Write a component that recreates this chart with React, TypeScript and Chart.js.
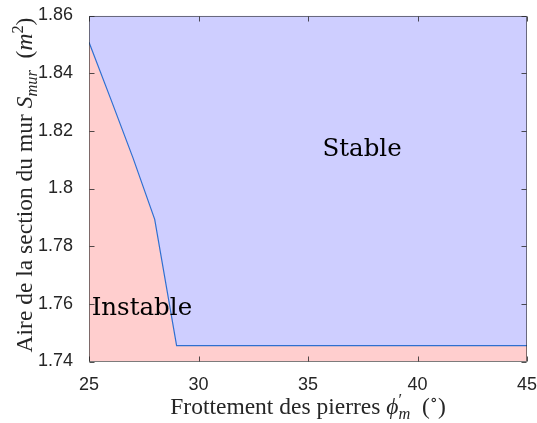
import React, { useEffect, useRef } from "react";
import { Chart, registerables } from "chart.js";

Chart.register(...registerables);

// Data
const phi = [25, 26, 27, 28, 29, 30, 35, 40, 45];
const sectionMin = [1.8507, 1.8309, 1.8108, 1.7893, 1.7455, 1.7455, 1.7455, 1.7455, 1.7455];
const xTicks = [25, 30, 35, 40, 45];
const yTicks = [1.74, 1.76, 1.78, 1.8, 1.82, 1.84, 1.86];
const regionLabels = ["Stable", "Instable"];
const regionX = [35.66, 25.12];
const regionY = [1.8112, 1.756];

const BLUE_FILL = "rgb(206,206,255)";
const RED_FILL = "rgb(255,206,206)";
const LINE = "#2f6fd0";
const AX = "#262626";
const SERIF = '"Liberation Serif", "DejaVu Serif", serif';
const SANS = '"Liberation Sans", Arial, sans-serif';

type Seg = { t: string; it?: boolean; sc?: number; dy?: number; noAdv?: boolean };

const xTitle: Seg[] = [
  { t: "Frottement des pierres " },
  { t: "ϕ", it: true },
  { t: "′", sc: 0.7, dy: -0.38, noAdv: true },
  { t: "m", it: true, sc: 0.7, dy: 0.22 },
  { t: "  (" },
  { t: "∘", sc: 0.7, dy: -0.38 },
  { t: ")" },
];
const yTitle: Seg[] = [
  { t: "Aire de la section du mur " },
  { t: "S", it: true },
  { t: "mur", it: true, sc: 0.7, dy: 0.22 },
  { t: "  (" },
  { t: "m", it: true },
  { t: "2", sc: 0.7, dy: -0.38 },
  { t: ")" },
];

function drawRich(ctx: CanvasRenderingContext2D, segs: Seg[], cx: number, by: number, size: number) {
  const fontOf = (s: Seg) => `${s.it ? "italic " : ""}${(size * (s.sc || 1)).toFixed(1)}px ${SERIF}`;
  let total = 0;
  for (const s of segs) {
    ctx.font = fontOf(s);
    if (!s.noAdv) total += ctx.measureText(s.t).width;
  }
  let x = cx - total / 2;
  ctx.textAlign = "left";
  ctx.textBaseline = "alphabetic";
  for (const s of segs) {
    ctx.font = fontOf(s);
    ctx.fillText(s.t, x, by + (s.dy || 0) * size);
    if (!s.noAdv) x += ctx.measureText(s.t).width;
  }
}

const decor = {
  id: "decor",
  afterDraw(chart: any) {
    const { ctx, chartArea: a } = chart;
    const xs = chart.scales.x;
    const ys = chart.scales.y;
    ctx.save();
    // region labels
    ctx.fillStyle = "#000";
    ctx.font = `24.5px "DejaVu Serif", serif`;
    ctx.textAlign = "left";
    ctx.textBaseline = "alphabetic";
    regionLabels.forEach((lab, i) => {
      ctx.fillText(lab, xs.getPixelForValue(regionX[i]), ys.getPixelForValue(regionY[i]));
    });
    // box
    ctx.strokeStyle = "rgba(38,38,38,0.6)";
    ctx.lineWidth = 1;
    const L = Math.round(a.left) + 0.5, R = Math.round(a.right) - 0.5;
    const T = Math.round(a.top) + 0.5, B = Math.round(a.bottom) - 0.5;
    ctx.strokeRect(L, T, R - L, B - T);
    // inward ticks
    ctx.strokeStyle = "rgba(38,38,38,0.8)";
    ctx.beginPath();
    const tl = 5;
    for (const v of xTicks) {
      const p = Math.round(xs.getPixelForValue(v)) + 0.5;
      ctx.moveTo(p, B); ctx.lineTo(p, B - tl);
      ctx.moveTo(p, T); ctx.lineTo(p, T + tl);
    }
    for (const v of yTicks) {
      const p = Math.round(ys.getPixelForValue(v)) + 0.5;
      ctx.moveTo(L, p); ctx.lineTo(L + tl, p);
      ctx.moveTo(R, p); ctx.lineTo(R - tl, p);
    }
    ctx.stroke();
    // axis titles
    ctx.fillStyle = AX;
    drawRich(ctx, xTitle, (a.left + a.right) / 2, 414, 23.5);
    ctx.save();
    ctx.translate(32, 185);
    ctx.rotate(-Math.PI / 2);
    drawRich(ctx, yTitle, 0, 0, 23.5);
    ctx.restore();
    ctx.restore();
  },
};

export default function App() {
  const ref = useRef<HTMLCanvasElement | null>(null);
  useEffect(() => {
    if (!ref.current) return;
    const pts = phi.map((p, i) => ({ x: p, y: sectionMin[i] }));
    const chart = new Chart(ref.current, {
      type: "line",
      data: {
        datasets: [
          {
            data: pts,
            fill: "end",
            backgroundColor: BLUE_FILL,
            borderColor: LINE,
            borderWidth: 1.2,
            pointRadius: 0,
            tension: 0,
          },
          {
            data: pts,
            fill: "start",
            backgroundColor: RED_FILL,
            borderWidth: 0,
            borderColor: "rgba(0,0,0,0)",
            pointRadius: 0,
            tension: 0,
          },
        ],
      },
      options: {
        responsive: false,
        animation: false,
        layout: { padding: { top: 15.5, right: 10, left: 0, bottom: 0 } },
        plugins: { legend: { display: false }, tooltip: { enabled: false } },
        scales: {
          x: {
            type: "linear",
            min: 25,
            max: 45,
            grid: { display: false },
            border: { display: false },
            afterBuildTicks: (s: any) => { s.ticks = xTicks.map((v) => ({ value: v })); },
            afterFit: (s: any) => {
              s.height = 61.5;
              s.paddingLeft = 0; s.paddingRight = 0;
            },
            ticks: {
              font: { family: SANS, size: 18 },
              color: AX,
              padding: 5,
              maxRotation: 0,
              callback: (v: any) => String(Number(Number(v).toFixed(2))),
            },
          },
          y: {
            type: "linear",
            min: 1.74,
            max: 1.86,
            grid: { display: false },
            border: { display: false },
            afterBuildTicks: (s: any) => { s.ticks = yTicks.map((v) => ({ value: v })); },
            afterFit: (s: any) => {
              s.width = 89;
              s.paddingTop = 0; s.paddingBottom = 0;
            },
            ticks: {
              font: { family: SANS, size: 18 },
              color: AX,
              padding: 8,
              callback: (v: any) => String(Number(Number(v).toFixed(2))),
            },
          },
        },
      },
      plugins: [decor],
    });
    return () => chart.destroy();
  }, []);
  return (
    <div style={{ position: "absolute", left: 0, top: 0, width: 537, height: 423, background: "#fff" }}>
      <canvas ref={ref} width={537} height={423} style={{ display: "block" }} />
    </div>
  );
}
